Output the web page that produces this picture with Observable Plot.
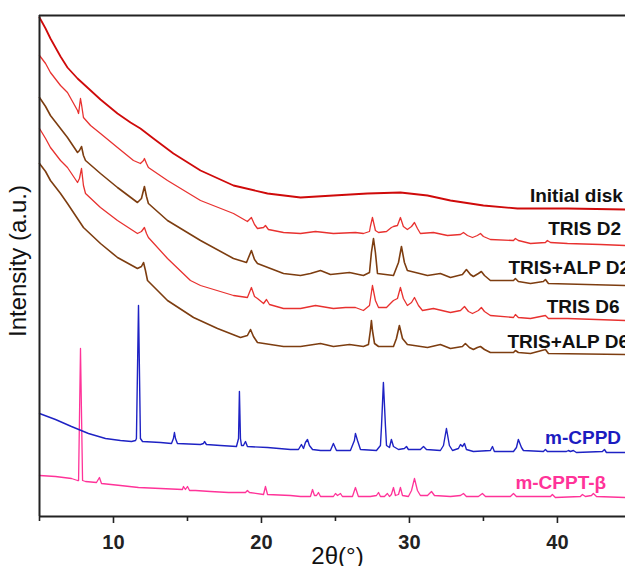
<!DOCTYPE html>
<html>
<head>
<meta charset="utf-8">
<script src="https://cdn.jsdelivr.net/npm/d3@7"></script>
<script src="https://cdn.jsdelivr.net/npm/@observablehq/plot@0.6"></script>
<style>
  html, body { margin: 0; padding: 0; background: #fff; overflow: hidden; }
  #chart svg { overflow: hidden; }
</style>
</head>
<body>
<div id="chart"></div>
<script>
// 2θ (degrees), intensity (a.u., stacked offsets as seen in the figure)
const initialDisk = [[5.00,499],[5.41,488],[5.74,478],[6.42,460],[6.89,449],[7.57,438],[8.31,428],[9.12,417],[10.27,403],[11.15,394],[11.82,388],[12.70,378],[14.05,363],[15.88,346],[18.11,331],[20.41,323],[22.64,319],[24.86,321],[27.16,323],[29.39,324],[31.22,321],[32.77,316],[35.00,311],[37.30,308],[40.68,308],[44.60,307]];

const trisD2 = [[5.00,461],[5.41,453],[5.74,444],[6.42,431],[6.89,424],[7.57,406],[7.64,403],[7.77,418],[7.84,412],[7.97,399],[8.45,391],[9.12,383],[10.27,369],[11.35,356],[11.82,353],[12.03,356],[12.09,358],[12.23,353],[12.36,349],[13.65,336],[15.88,316],[18.11,303],[19.05,295],[19.32,299],[19.53,292],[19.73,288],[20.14,289],[20.27,291],[20.47,287],[21.49,284],[22.64,283],[23.65,285],[24.86,283],[26.35,284],[26.89,283],[27.30,285],[27.36,290],[27.50,299],[27.64,290],[27.70,286],[27.91,284],[28.45,285],[28.78,289],[28.92,290],[29.19,291],[29.39,299],[29.59,290],[29.86,287],[30.14,290],[30.34,294],[30.54,288],[30.74,283],[31.62,284],[32.57,281],[33.45,282],[33.65,284],[33.92,281],[34.26,279],[34.59,281],[34.80,283],[35.00,280],[35.47,277],[37.03,276],[37.16,278],[37.36,276],[38.18,273],[39.19,274],[39.32,276],[39.53,274],[40.68,273],[42.91,272],[44.60,271]];

const trisAlpD2 = [[5.00,419],[5.41,410],[5.74,401],[6.42,388],[6.89,379],[7.57,364],[7.70,366],[7.84,370],[7.97,361],[8.11,356],[9.12,343],[10.27,329],[11.62,314],[11.89,318],[12.09,330],[12.23,320],[12.36,313],[13.65,296],[15.88,276],[18.11,258],[18.99,254],[19.32,266],[19.53,257],[19.73,253],[21.49,243],[22.64,241],[23.31,243],[23.99,246],[24.66,242],[25.95,244],[26.89,241],[27.30,244],[27.43,264],[27.57,278],[27.70,264],[27.84,243],[28.92,241],[29.26,254],[29.46,270],[29.66,254],[29.86,246],[30.41,244],[31.22,241],[32.09,243],[32.77,239],[33.58,242],[33.85,247],[34.12,242],[34.32,240],[34.66,243],[34.86,245],[35.07,241],[35.47,236],[37.03,236],[37.16,238],[37.36,235],[38.18,233],[39.05,235],[39.19,237],[39.39,233],[44.60,231]];

const trisD6 = [[5.00,388],[5.41,378],[5.74,369],[6.42,356],[6.89,349],[7.57,334],[7.70,338],[7.84,348],[7.97,331],[8.11,323],[9.12,309],[10.27,296],[11.62,283],[11.89,285],[12.09,289],[12.23,283],[12.36,279],[13.65,258],[15.20,236],[15.88,231],[18.11,221],[19.05,219],[19.32,229],[19.53,220],[19.73,218],[20.14,213],[20.34,217],[20.54,212],[21.49,208],[22.64,208],[23.65,211],[24.86,208],[25.68,209],[26.35,209],[26.89,206],[27.30,211],[27.50,231],[27.70,216],[27.91,209],[28.45,209],[28.78,214],[28.92,216],[29.19,218],[29.39,229],[29.59,218],[29.86,211],[30.14,214],[30.34,219],[30.61,211],[30.88,206],[31.62,208],[32.77,204],[33.45,206],[33.72,210],[33.99,205],[34.26,203],[34.66,206],[34.86,209],[35.07,205],[35.47,201],[37.03,199],[37.16,202],[37.36,199],[38.18,198],[39.19,201],[39.39,198],[40.68,198],[44.60,196]];

const trisAlpD6 = [[5.00,353],[5.41,345],[5.74,336],[6.42,323],[6.89,313],[7.97,289],[9.12,273],[10.27,259],[11.62,248],[11.89,250],[12.03,254],[12.16,246],[12.30,236],[13.65,216],[15.41,199],[17.03,188],[18.58,179],[19.05,181],[19.26,187],[19.46,180],[19.73,174],[21.49,170],[22.64,170],[23.99,173],[24.86,170],[25.95,172],[26.89,170],[27.23,172],[27.36,186],[27.43,196],[27.50,186],[27.64,173],[27.91,170],[28.92,170],[29.12,178],[29.32,191],[29.53,178],[29.86,172],[31.22,169],[32.09,172],[32.77,168],[33.58,170],[33.78,173],[34.05,169],[34.32,167],[34.59,169],[34.80,170],[35.07,167],[35.47,164],[37.03,164],[37.16,166],[37.36,164],[38.18,163],[39.19,167],[39.39,163],[44.60,162]];

const mCPPD = [[5.00,103],[6.08,97],[7.16,90],[8.31,83],[9.46,78],[10.47,76],[11.22,75],[11.49,76],[11.55,78],[11.69,211],[11.82,78],[11.96,75],[13.18,74],[13.92,73],[14.05,78],[14.12,84],[14.19,78],[14.32,73],[15.88,72],[16.08,73],[16.15,75],[16.28,72],[17.23,71],[18.31,70],[18.45,78],[18.51,125],[18.58,78],[18.65,71],[18.78,71],[18.92,75],[19.05,70],[20.41,69],[21.96,67],[22.50,67],[22.70,72],[22.84,68],[22.97,74],[23.11,77],[23.24,71],[23.45,67],[23.99,66],[24.66,66],[24.86,73],[25.07,66],[26.01,66],[26.28,76],[26.35,83],[26.49,76],[26.69,67],[27.77,66],[28.04,71],[28.11,90],[28.24,134],[28.38,90],[28.45,71],[28.65,69],[28.78,77],[28.92,70],[29.26,67],[29.66,68],[29.80,70],[29.93,67],[30.74,67],[30.95,70],[31.15,67],[32.09,66],[32.30,71],[32.50,88],[32.70,71],[32.91,66],[33.31,68],[33.45,72],[33.58,70],[33.72,73],[33.85,67],[34.32,65],[35.47,66],[35.61,70],[35.74,65],[37.03,65],[37.23,69],[37.36,77],[37.57,69],[37.70,66],[39.05,65],[39.19,67],[39.32,65],[40.61,65],[40.74,66],[40.88,65],[41.08,66],[41.28,64],[43.04,65],[43.18,67],[43.31,64],[44.60,64]];

const mCPPT = [[5.00,41],[6.08,40],[7.16,38],[7.57,36],[7.64,36],[7.77,168],[7.91,36],[8.11,35],[8.85,34],[9.05,39],[9.19,33],[10.47,31],[11.69,29],[13.18,28],[14.66,27],[14.73,30],[14.86,27],[15.00,30],[15.14,26],[15.54,26],[16.55,25],[17.77,24],[18.92,24],[19.05,26],[19.19,24],[20.14,22],[20.27,30],[20.41,22],[21.96,21],[22.64,20],[23.31,20],[23.45,27],[23.58,21],[23.72,21],[23.85,24],[23.99,20],[24.86,20],[25.00,23],[25.14,21],[25.34,23],[25.47,20],[26.15,20],[26.35,29],[26.55,20],[27.36,20],[27.77,21],[27.91,24],[28.04,20],[28.31,20],[28.51,23],[28.65,20],[28.78,22],[28.92,29],[29.05,21],[29.26,22],[29.39,29],[29.53,21],[29.93,20],[30.14,26],[30.34,38],[30.54,26],[30.74,21],[31.22,21],[31.49,25],[31.69,21],[32.77,20],[33.45,21],[33.65,23],[33.85,20],[34.66,20],[34.93,23],[35.14,20],[36.82,20],[37.03,23],[37.23,20],[37.97,20],[39.53,20],[39.66,22],[39.86,19],[41.55,20],[41.69,22],[41.89,20],[42.30,21],[42.43,23],[42.64,20],[44.60,19]];

const seriesNames = ["Initial disk", "TRIS D2", "TRIS+ALP D2", "TRIS D6", "TRIS+ALP D6", "m-CPPD", "m-CPPT-β"];
const majorTicks = [10, 20, 30, 40];
const minorTicks = [5, 15, 25, 35];

const RED_DARK = "#cf0a0a", RED = "#e8312f", BROWN = "#7d3d10", BLUE = "#1e22c4", PINK = "#ff3399";
const font = "Arial, 'Liberation Sans', Helvetica, sans-serif";

const endLabels = [
  {name: seriesNames[0], x: 44.42, y: 321, color: "#111"},
  {name: seriesNames[1], x: 44.30, y: 288, color: "#111"},
  {name: seriesNames[3], x: 44.20, y: 210, color: "#111"},
  {name: seriesNames[5], x: 44.30, y: 79, color: "#1c1cc0"}
];
const startLabels = [
  {name: seriesNames[2], x: 36.69, y: 249, color: "#111"},
  {name: seriesNames[4], x: 36.62, y: 175, color: "#111"},
  {name: seriesNames[6], x: 37.16, y: 34, color: PINK}
];

const lineOpts = (stroke, w) => ({x: d => d[0], y: d => d[1], stroke, strokeWidth: w, curve: "linear", strokeLinejoin: "round"});
const labelOpts = (anchor) => ({x: "x", y: "y", text: "name", textAnchor: anchor, fill: "color",
  fontSize: 19, fontWeight: "bold", lineAnchor: "middle"});

const chart = Plot.plot({
  width: 625,
  height: 566,
  marginLeft: 39,
  marginRight: 0,
  marginTop: 15,
  marginBottom: 50,
  style: {fontFamily: font, color: "#222", background: "#fff", overflow: "hidden"},
  x: {domain: [5, 44.6]},
  y: {domain: [0, 501], axis: null},
  marks: [
    Plot.line(mCPPT, lineOpts(PINK, 1.3)),
    Plot.line(mCPPD, lineOpts(BLUE, 1.4)),
    Plot.line(trisAlpD6, lineOpts(BROWN, 1.6)),
    Plot.line(trisD6, lineOpts(RED, 1.3)),
    Plot.line(trisAlpD2, lineOpts(BROWN, 1.6)),
    Plot.line(trisD2, lineOpts(RED, 1.3)),
    Plot.line(initialDisk, lineOpts(RED_DARK, 1.8)),
    Plot.text(endLabels, labelOpts("end")),
    Plot.text(startLabels, labelOpts("start")),
    Plot.ruleX([5], {stroke: "#222", strokeWidth: 2}),
    Plot.ruleY([0], {stroke: "#222", strokeWidth: 2}),
    Plot.ruleY([501], {stroke: "#222", strokeWidth: 2}),
    Plot.axisX({ticks: majorTicks, tickSize: 7, tickPadding: 11, fontSize: 20, fontWeight: "bold", label: null, strokeWidth: 1.6}),
    Plot.axisX({ticks: minorTicks, tickSize: 5, tickFormat: () => "", label: null, strokeWidth: 1.6}),
    Plot.text(["Intensity (a.u.)"], {frameAnchor: "left", textAnchor: "middle", rotate: -90, dx: -21, dy: -5, fontSize: 24, fill: "#111"}),
    Plot.text(["2θ(°)"], {frameAnchor: "bottom", lineAnchor: "middle", dy: 40, dx: 5, fontSize: 24, fill: "#111"})
  ]
});

document.getElementById("chart").append(chart);
</script>
</body>
</html>
